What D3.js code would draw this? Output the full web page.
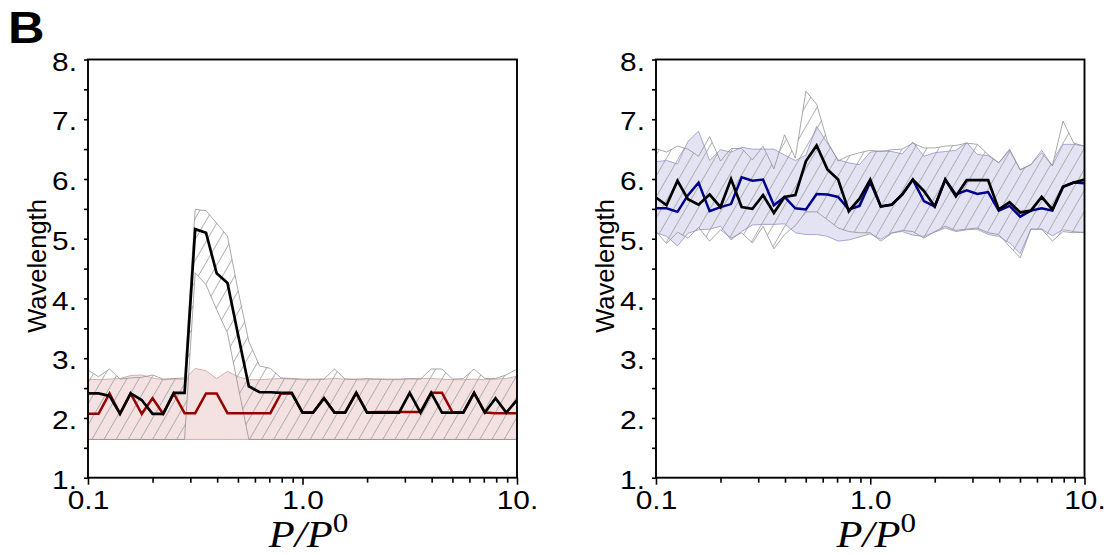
<!DOCTYPE html>
<html><head><meta charset="utf-8">
<script src="https://cdn.jsdelivr.net/npm/d3@7"></script>
<style>body{margin:0;background:#fff;} svg{display:block;}</style>
</head><body>
<svg id="chart" width="1110" height="555"></svg>
<script>
// ---------- DATA ----------
const pRatio = [0.1, 0.112, 0.126, 0.141, 0.158, 0.178, 0.2, 0.224, 0.251, 0.282,
  0.316, 0.355, 0.398, 0.447, 0.501, 0.562, 0.631, 0.708, 0.794, 0.891,
  1.0, 1.12, 1.26, 1.41, 1.58, 1.78, 2.0, 2.24, 2.51, 2.82,
  3.16, 3.55, 3.98, 4.47, 5.01, 5.62, 6.31, 7.08, 7.94, 8.91, 10.0];

// Left panel
const leftBlack = [2.41, 2.41, 2.37, 2.07, 2.41, 2.30, 2.07, 2.07, 2.42, 2.42,
  5.16, 5.10, 4.42, 4.26, 3.39, 2.53, 2.43, 2.43, 2.42, 2.42,
  2.09, 2.09, 2.33, 2.09, 2.09, 2.42, 2.09, 2.09, 2.09, 2.09,
  2.42, 2.09, 2.42, 2.09, 2.09, 2.09, 2.42, 2.09, 2.33, 2.09, 2.30];
const leftRed = [2.07, 2.07, 2.41, 2.07, 2.41, 2.07, 2.33, 2.07, 2.41, 2.08,
  2.08, 2.41, 2.41, 2.08, 2.08, 2.08, 2.08, 2.08, 2.41, 2.41,
  2.09, 2.09, 2.33, 2.09, 2.09, 2.42, 2.09, 2.10, 2.10, 2.10,
  2.10, 2.10, 2.42, 2.42, 2.09, 2.09, 2.42, 2.09, 2.08, 2.08, 2.08];
const leftHatchUpper = [2.80, 2.69, 2.82, 2.65, 2.67, 2.68, 2.72, 2.65, 2.66, 2.67,
  5.49, 5.47, 5.26, 5.04, 4.13, 3.28, 2.87, 2.83, 2.67, 2.66,
  2.65, 2.65, 2.65, 2.82, 2.65, 2.65, 2.66, 2.65, 2.65, 2.65,
  2.66, 2.65, 2.82, 2.82, 2.65, 2.66, 2.82, 2.66, 2.66, 2.72, 2.82];
const leftHatchLower = [1.64, 1.64, 1.64, 1.64, 1.64, 1.64, 1.64, 1.64, 1.64, 1.64,
  4.43, 4.23, 3.81, 3.42, 2.53, 1.64, 1.64, 1.64, 1.64, 1.64,
  1.64, 1.64, 1.64, 1.64, 1.64, 1.64, 1.64, 1.64, 1.64, 1.64,
  1.64, 1.64, 1.64, 1.64, 1.64, 1.64, 1.64, 1.64, 1.64, 1.64, 1.64];
const leftBandUpper = [2.65, 2.64, 2.65, 2.66, 2.71, 2.72, 2.67, 2.64, 2.65, 2.65,
  2.83, 2.79, 2.66, 2.78, 2.69, 2.64, 2.64, 2.65, 2.66, 2.65,
  2.64, 2.64, 2.65, 2.66, 2.65, 2.64, 2.64, 2.65, 2.64, 2.64,
  2.65, 2.66, 2.66, 2.65, 2.64, 2.64, 2.65, 2.64, 2.65, 2.66, 2.70];
const leftBandLower = [1.64, 1.64, 1.64, 1.64, 1.64, 1.64, 1.64, 1.64, 1.64, 1.64,
  1.64, 1.64, 1.64, 1.64, 1.64, 1.64, 1.64, 1.64, 1.64, 1.64,
  1.64, 1.64, 1.64, 1.64, 1.64, 1.64, 1.64, 1.64, 1.64, 1.64,
  1.64, 1.64, 1.64, 1.64, 1.64, 1.64, 1.64, 1.64, 1.64, 1.64, 1.64];

// Right panel
const rightBlack = [5.69, 5.56, 5.97, 5.66, 5.57, 5.74, 5.53, 6.00, 5.53, 5.50,
  5.73, 5.43, 5.70, 5.73, 6.30, 6.56, 6.16, 5.99, 5.46, 5.67,
  5.99, 5.54, 5.57, 5.74, 5.99, 5.80, 5.54, 5.99, 5.71, 5.98,
  5.98, 5.98, 5.49, 5.61, 5.44, 5.47, 5.70, 5.49, 5.87, 5.94, 5.99];
const rightBlue = [5.51, 5.51, 5.45, 5.73, 5.94, 5.46, 5.53, 5.58, 6.03, 5.97,
  5.99, 5.56, 5.70, 5.51, 5.49, 5.75, 5.74, 5.70, 5.49, 5.55,
  5.95, 5.54, 5.57, 5.74, 5.99, 5.63, 5.54, 5.99, 5.74, 5.81,
  5.75, 5.78, 5.47, 5.55, 5.37, 5.47, 5.51, 5.47, 5.87, 5.94, 5.93];
const rightHatchUpper = [6.51, 6.45, 6.55, 6.50, 6.38, 6.71, 6.30, 6.51, 6.51, 6.32,
  6.55, 6.17, 6.74, 6.35, 7.47, 7.25, 6.63, 6.30, 6.39, 6.44,
  6.48, 6.46, 6.49, 6.50, 6.60, 6.52, 6.52, 6.55, 6.56, 6.60,
  6.58, 6.41, 6.27, 6.50, 6.15, 6.24, 6.48, 6.22, 6.97, 6.60, 6.55];
const rightHatchLower = [5.12, 4.92, 5.11, 5.01, 5.19, 4.96, 5.15, 5.01, 5.10, 4.93,
  5.21, 4.83, 5.07, 5.22, 5.45, 5.45, 5.32, 5.18, 5.12, 5.10,
  5.10, 4.96, 5.09, 5.14, 5.12, 5.01, 5.12, 5.21, 5.14, 5.16,
  5.18, 5.10, 5.07, 4.87, 4.68, 5.16, 5.16, 4.96, 5.12, 5.10, 5.11];
const rightBandUpper = [6.29, 6.31, 6.25, 6.63, 6.80, 6.31, 6.49, 6.45, 6.53, 6.50,
  6.50, 6.50, 6.40, 6.31, 6.40, 6.88, 6.60, 6.32, 6.27, 6.24,
  6.45, 6.47, 6.46, 6.42, 6.62, 6.38, 6.44, 6.46, 6.48, 6.61,
  6.41, 6.39, 6.27, 6.48, 6.16, 6.24, 6.44, 6.22, 6.58, 6.58, 6.55];
const rightBandLower = [5.10, 5.04, 4.88, 5.09, 5.15, 5.16, 5.21, 4.98, 5.12, 5.23,
  5.24, 5.24, 5.25, 5.10, 5.07, 5.07, 5.04, 4.96, 4.98, 5.03,
  5.08, 4.99, 5.10, 5.12, 5.06, 5.04, 5.11, 5.18, 5.12, 5.15,
  5.16, 5.07, 5.04, 4.93, 4.75, 5.16, 5.16, 5.05, 5.15, 5.12, 5.10];

// Ticks
const yTickValues = [1, 2, 3, 4, 5, 6, 7, 8];
const yTickLabels = ["1.", "2.", "3.", "4.", "5.", "6.", "7.", "8."];
const yMinorTicks = [1.5, 2.5, 3.5, 4.5, 5.5, 6.5, 7.5];
const xTickValues = [0.1, 1, 10];
const xTickLabels = ["0.1", "1.0", "10."];
const xMinorTicks = [0.2, 0.3, 0.4, 0.5, 0.6, 0.7, 0.8, 0.9, 2, 3, 4, 5, 6, 7, 8, 9];
const yAxisTitle = "Wavelength";
const panelLetter = "B";

// ---------- DRAW ----------
const svg = d3.select("#chart");
const defs = svg.append("defs");
const pat = defs.append("pattern").attr("id", "hatch")
  .attr("patternUnits", "userSpaceOnUse")
  .attr("width", 10.5).attr("height", 10)
  .attr("patternTransform", "rotate(30)");
pat.append("line").attr("x1", 5.25).attr("y1", -1).attr("x2", 5.25).attr("y2", 11)
  .attr("stroke", "#a2a2a2").attr("stroke-width", 0.8);

const TOP = 59.5, BOTTOM = 477.7;
const WIDEN = 1.17;

function widen(sel) {
  sel.each(function () {
    const len = this.getComputedTextLength();
    d3.select(this).attr("textLength", len * WIDEN).attr("lengthAdjust", "spacingAndGlyphs");
  });
}

function drawPanel(cfg) {
  const x = d3.scaleLog().domain([0.1, 10]).range([cfg.x0, cfg.x1]);
  const y = d3.scaleLinear().domain([1, 8]).range([BOTTOM, TOP]);
  const g = svg.append("g");
  const idx = d3.range(pRatio.length);

  const band = d3.area().x(i => x(pRatio[i])).y0(i => y(cfg.bandLower[i])).y1(i => y(cfg.bandUpper[i]));
  const hatch = d3.area().x(i => x(pRatio[i])).y0(i => y(cfg.hatchLower[i])).y1(i => y(cfg.hatchUpper[i]));
  const lineOf = arr => d3.line().x(i => x(pRatio[i])).y(i => y(arr[i]));

  g.append("path").attr("d", band(idx)).attr("fill", cfg.bandFill).attr("stroke", "none");
  g.append("path").attr("d", hatch(idx)).attr("fill", "url(#hatch)").attr("stroke", "none");
  [cfg.bandUpper, cfg.bandLower].forEach(a =>
    g.append("path").attr("d", lineOf(a)(idx)).attr("fill", "none")
      .attr("stroke", cfg.bandStroke).attr("stroke-width", 0.8));
  [cfg.hatchUpper, cfg.hatchLower].forEach(a =>
    g.append("path").attr("d", lineOf(a)(idx)).attr("fill", "none")
      .attr("stroke", "#8c8c8c").attr("stroke-width", 0.75));
  g.append("path").attr("d", lineOf(cfg.colorSeries)(idx)).attr("fill", "none")
    .attr("stroke", cfg.color).attr("stroke-width", 2.5).attr("stroke-linejoin", "miter");
  g.append("path").attr("d", lineOf(cfg.blackSeries)(idx)).attr("fill", "none")
    .attr("stroke", "#000").attr("stroke-width", 2.7).attr("stroke-linejoin", "miter");

  // frame
  g.append("rect").attr("x", cfg.x0).attr("y", TOP).attr("width", cfg.x1 - cfg.x0)
    .attr("height", BOTTOM - TOP).attr("fill", "none").attr("stroke", "#000").attr("stroke-width", 1.9);

  // y axis ticks
  const yAx = g.append("g").attr("transform", `translate(${cfg.x0},0)`)
    .call(d3.axisLeft(y).tickValues(yTickValues).tickSize(4).tickPadding(7)
      .tickFormat((d, i) => yTickLabels[i]));
  yAx.select(".domain").remove();
  yAx.selectAll("line").attr("stroke-width", 1.6);
  yAx.selectAll("text").attr("font-family", "Liberation Sans").attr("font-size", 25.5)
    .attr("fill", "#000").attr("dy", "0.42em").call(widen);
  const yMin = g.append("g").attr("transform", `translate(${cfg.x0},0)`)
    .call(d3.axisLeft(y).tickValues(yMinorTicks).tickSize(4).tickFormat(""));
  yMin.select(".domain").remove();
  yMin.selectAll("line").attr("stroke-width", 1.6);

  // x axis ticks
  const xAx = g.append("g").attr("transform", `translate(0,${BOTTOM})`)
    .call(d3.axisBottom(x).tickValues(xTickValues).tickSize(7).tickPadding(6)
      .tickFormat((d, i) => xTickLabels[i]));
  xAx.select(".domain").remove();
  xAx.selectAll("line").attr("stroke-width", 1.6);
  xAx.selectAll("text").attr("font-family", "Liberation Sans").attr("font-size", 25.5)
    .attr("fill", "#000").call(widen);
  const xMin = g.append("g").attr("transform", `translate(0,${BOTTOM})`)
    .call(d3.axisBottom(x).tickValues(xMinorTicks).tickSize(5).tickFormat(""));
  xMin.select(".domain").remove();
  xMin.selectAll("line").attr("stroke-width", 1.6);

  // axis titles
  g.append("text").attr("transform", `translate(${cfg.titleX},266) rotate(-90)`)
    .attr("text-anchor", "middle").attr("font-family", "Liberation Sans")
    .attr("font-size", 25.5).text(yAxisTitle);
  const xt = g.append("text")
    .attr("transform", `translate(${(cfg.x0 + cfg.x1) / 2 + 6},547) scale(1.15,1)`)
    .attr("text-anchor", "middle").attr("font-family", "Liberation Serif")
    .attr("font-style", "italic").attr("font-size", 37);
  xt.append("tspan").text("P/P");
  xt.append("tspan").attr("font-style", "normal").attr("font-size", 27).attr("dy", -15).text("0");
}

drawPanel({ x0: 88, x1: 517, titleX: 46,
  blackSeries: leftBlack, colorSeries: leftRed, color: "#960000",
  hatchUpper: leftHatchUpper, hatchLower: leftHatchLower,
  bandUpper: leftBandUpper, bandLower: leftBandLower,
  bandFill: "#f4e2e2", bandStroke: "#c9a0a0" });
drawPanel({ x0: 656, x1: 1084.5, titleX: 614,
  blackSeries: rightBlack, colorSeries: rightBlue, color: "#00008c",
  hatchUpper: rightHatchUpper, hatchLower: rightHatchLower,
  bandUpper: rightBandUpper, bandLower: rightBandLower,
  bandFill: "#e3e3f3", bandStroke: "#9494cc" });

svg.append("text").attr("transform", "translate(8,43) scale(1.15,1)")
  .attr("font-family", "Liberation Sans").attr("font-weight", "bold")
  .attr("font-size", 44).text(panelLetter);
</script>
</body></html>
